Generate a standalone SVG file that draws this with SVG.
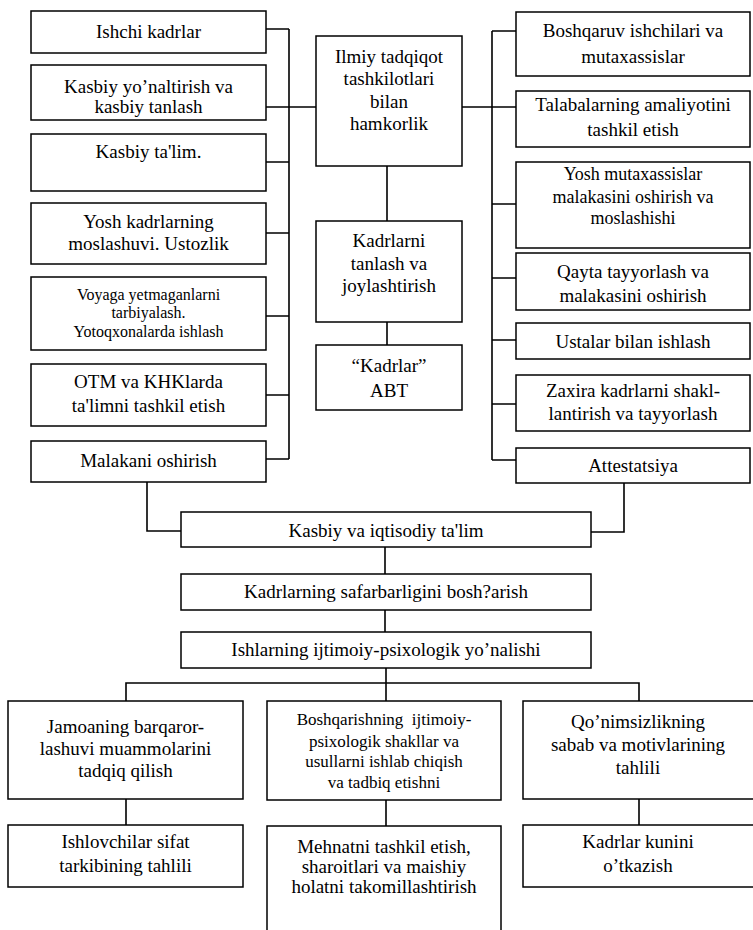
<svg xmlns="http://www.w3.org/2000/svg" width="753" height="930" viewBox="0 0 753 930">
<style>
.b{fill:#fff;stroke:#000;stroke-width:1.5}
.c{fill:none;stroke:#000;stroke-width:1.6}
.t text{font-family:'Liberation Serif','DejaVu Serif',serif;font-size:19px;text-anchor:middle;fill:#000}
.t .s16{font-size:16px}
.t .s17{font-size:17px}
.t .s18{font-size:18px}
</style>
<rect width="753" height="930" fill="#fff"/>
<g id="connectors">
<path class="c" d="M289,29V459M266,29H289M266,107H316M266,162H289M266,233H289M266,316H289M266,395H289M266,459H289"/>
<path class="c" d="M492,31V460M492,31H516M462,107H516M492,204H516M492,278H516M492,340H516M492,404H516M492,460H516"/>
<path class="c" d="M387,166V221M387,322V345"/>
<path class="c" d="M147,482V531H181M624,483V532H591M385,547V574M385,610V632M386,668V701M126,701V683H639V701"/>
<path class="c" d="M126,799V825M386,800V826M639,799V825"/>
</g>
<g class="t" font-family="Liberation Serif, DejaVu Serif, serif">
<g id="l1"><rect class="b" x="31" y="11" width="235" height="42"/><text x="148.5" y="38">Ishchi kadrlar</text></g>
<g id="l2"><rect class="b" x="31" y="65" width="235" height="55"/><text x="148.5" y="93">Kasbiy yo’naltirish va</text><text x="148.5" y="113">kasbiy tanlash</text></g>
<g id="l3"><rect class="b" x="31" y="134" width="235" height="57"/><text x="148.5" y="158">Kasbiy ta'lim.</text></g>
<g id="l4"><rect class="b" x="31" y="203" width="235" height="61"/><text x="148.5" y="228">Yosh kadrlarning</text><text x="148.5" y="250">moslashuvi. Ustozlik</text></g>
<g id="l5"><rect class="b" x="31" y="277" width="235" height="73"/><text class="s16" x="148.5" y="300">Voyaga yetmaganlarni</text><text class="s16" x="148.5" y="318">tarbiyalash.</text><text class="s16" x="148.5" y="337">Yotoqxonalarda ishlash</text></g>
<g id="l6"><rect class="b" x="31" y="364" width="235" height="62"/><text x="148.5" y="388">OTM va KHKlarda</text><text x="148.5" y="412">ta'limni tashkil etish</text></g>
<g id="l7"><rect class="b" x="31" y="441" width="235" height="41"/><text x="148.5" y="467">Malakani oshirish</text></g>
<g id="c1"><rect class="b" x="316" y="36" width="146" height="130"/><text x="389" y="63">Ilmiy tadqiqot</text><text x="389" y="85">tashkilotlari</text><text x="389" y="108">bilan</text><text x="389" y="130">hamkorlik</text></g>
<g id="c2"><rect class="b" x="316" y="221" width="146" height="101"/><text x="389" y="247">Kadrlarni</text><text x="389" y="270">tanlash va</text><text x="389" y="292">joylashtirish</text></g>
<g id="c3"><rect class="b" x="316" y="345" width="146" height="65"/><text x="389" y="372">“Kadrlar”</text><text x="389" y="397">ABT</text></g>
<g id="r1"><rect class="b" x="516" y="12" width="234" height="64"/><text x="633" y="37">Boshqaruv ishchilari va</text><text x="633" y="63">mutaxassislar</text></g>
<g id="r2"><rect class="b" x="516" y="91" width="234" height="56"/><text x="633" y="111">Talabalarning amaliyotini</text><text x="633" y="136">tashkil etish</text></g>
<g id="r3"><rect class="b" x="516" y="162" width="234" height="86"/><text class="s18" x="633" y="180">Yosh mutaxassislar</text><text class="s18" x="633" y="203">malakasini oshirish va</text><text class="s18" x="633" y="224">moslashishi</text></g>
<g id="r4"><rect class="b" x="516" y="253" width="234" height="57"/><text x="633" y="278">Qayta tayyorlash va</text><text x="633" y="302">malakasini oshirish</text></g>
<g id="r5"><rect class="b" x="516" y="323" width="234" height="36"/><text x="633" y="348">Ustalar bilan ishlash</text></g>
<g id="r6"><rect class="b" x="516" y="375" width="234" height="56"/><text x="633" y="397">Zaxira kadrlarni shakl-</text><text x="633" y="420">lantirish va tayyorlash</text></g>
<g id="r7"><rect class="b" x="516" y="448" width="234" height="35"/><text x="633" y="472">Attestatsiya</text></g>
<g id="m1"><rect class="b" x="181" y="512" width="410" height="35"/><text x="386" y="537">Kasbiy va iqtisodiy ta'lim</text></g>
<g id="m2"><rect class="b" x="181" y="574" width="410" height="36"/><text x="386" y="598">Kadrlarning safarbarligini bosh?arish</text></g>
<g id="m3"><rect class="b" x="181" y="632" width="410" height="36"/><text x="386" y="656">Ishlarning ijtimoiy-psixologik yo’nalishi</text></g>
<g id="b1"><rect class="b" x="8" y="701" width="235" height="98"/><text x="125.5" y="733">Jamoaning barqaror-</text><text x="125.5" y="755">lashuvi muammolarini</text><text x="125.5" y="777">tadqiq qilish</text></g>
<g id="b2"><rect class="b" x="267" y="701" width="234" height="99"/><text class="s17" x="384" y="725" xml:space="preserve">Boshqarishning  ijtimoiy-</text><text class="s17" x="384" y="747">psixologik shakllar va</text><text class="s17" x="384" y="767">usullarni ishlab chiqish</text><text class="s17" x="384" y="788">va tadbiq etishni</text></g>
<g id="b3"><rect class="b" x="523" y="701" width="232" height="98"/><text x="638" y="728">Qo’nimsizlikning</text><text x="638" y="751">sabab va motivlarining</text><text x="638" y="774">tahlili</text></g>
<g id="d1"><rect class="b" x="8" y="825" width="235" height="62"/><text x="125.5" y="848">Ishlovchilar sifat</text><text x="125.5" y="872">tarkibining tahlili</text></g>
<g id="d2"><rect class="b" x="267" y="826" width="234" height="110"/><text x="384" y="853">Mehnatni tashkil etish,</text><text x="384" y="873">sharoitlari va maishiy</text><text x="384" y="893">holatni takomillashtirish</text></g>
<g id="d3"><rect class="b" x="523" y="825" width="232" height="62"/><text x="638" y="848">Kadrlar kunini</text><text x="638" y="872">o’tkazish</text></g>
</g>
</svg>
